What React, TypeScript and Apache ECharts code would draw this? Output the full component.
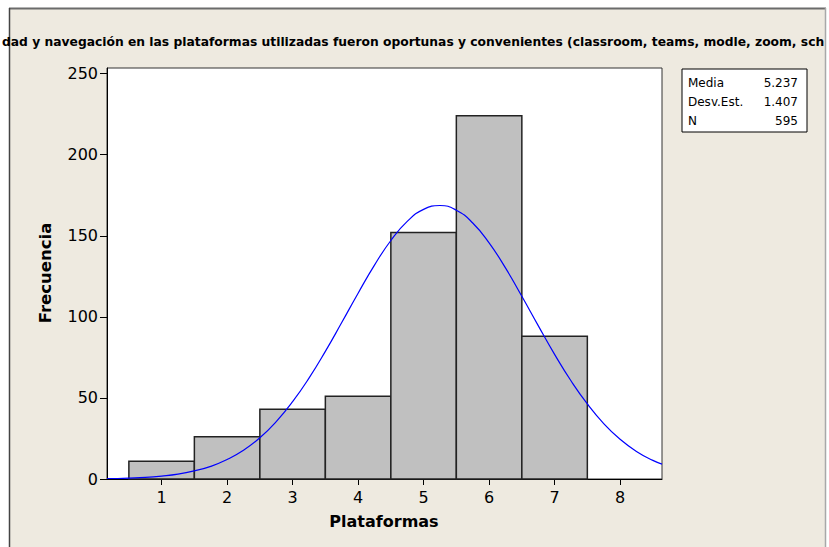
import React, { useEffect, useRef } from "react";
import * as echarts from "echarts";

const TITLE_TEXT =
  "dad y navegación en las plataformas utilizadas fueron oportunas y convenientes (classroom, teams, modle, zoom, sch";
const X_NAME = "Plataformas";
const Y_NAME = "Frecuencia";

// Histogram (bin centres and frequencies)
const binCenters = [1, 2, 3, 4, 5, 6, 7];
const frequencies = [11, 26, 43, 51, 152, 224, 88];

// Fitted normal curve
const curveX = [0.166, 0.25, 0.5, 0.75, 1, 1.25, 1.5, 1.75, 2, 2.25, 2.5, 2.75, 3, 3.25, 3.5, 3.75, 4, 4.25, 4.5, 4.75, 5, 5.25, 5.5, 5.75, 6, 6.25, 6.5, 6.75, 7, 7.25, 7.5, 7.75, 8, 8.25, 8.5, 8.64];
const curveY = [0.3, 0.3, 0.6, 1.0, 1.8, 3.0, 5.0, 7.8, 12.0, 17.7, 25.4, 35.4, 47.7, 62.2, 78.7, 96.5, 114.6, 131.9, 147.1, 158.9, 166.3, 168.7, 165.8, 157.9, 145.6, 130.2, 112.7, 94.6, 76.9, 60.6, 46.3, 34.2, 24.5, 17.0, 11.5, 9.2];

const xTicks = [1, 2, 3, 4, 5, 6, 7, 8];
const yTicks = [0, 50, 100, 150, 200, 250];

const statLabels = ["Media", "Desv.Est.", "N"];
const statValues = ["5.237", "1.407", "595"];

const FONT = "DejaVu Sans";

export default function App() {
  const ref = useRef<HTMLDivElement>(null);
  useEffect(() => {
    if (!ref.current) return;
    const chart = echarts.init(ref.current, null, { renderer: "svg" });

    const statTexts: any[] = [];
    statLabels.forEach((l, i) => {
      statTexts.push({
        type: "text",
        z: 20,
        style: { text: l, x: 688, y: 82.5 + i * 19, fill: "#000", font: `12px ${FONT}`, textVerticalAlign: "middle" },
      });
      statTexts.push({
        type: "text",
        z: 20,
        style: { text: statValues[i], x: 798, y: 82.5 + i * 19, fill: "#000", font: `12px ${FONT}`, textAlign: "right", textVerticalAlign: "middle" },
      });
    });

    chart.setOption({
      animation: false,
      backgroundColor: "#EEEAE0",
      grid: {
        left: 107,
        top: 68,
        width: 555,
        height: 411,
        show: true,
        backgroundColor: "#ffffff",
        borderColor: "#333333",
        borderWidth: 1,
      },
      xAxis: {
        type: "value",
        min: 0.166,
        max: 8.64,
        splitLine: { show: false },
        axisLine: { show: true, onZero: false, lineStyle: { color: "#000", width: 1 } },
        axisTick: { show: true, customValues: xTicks, length: 6, lineStyle: { color: "#000" } },
        axisLabel: { customValues: xTicks, margin: 10, color: "#000", fontSize: 16, fontFamily: FONT },
      },
      yAxis: {
        type: "value",
        min: 0,
        max: 253.5,
        splitLine: { show: false },
        axisLine: { show: true, lineStyle: { color: "#000", width: 1 } },
        axisTick: { show: true, customValues: yTicks, length: 7, lineStyle: { color: "#000" } },
        axisLabel: { customValues: yTicks, margin: 9, color: "#000", fontSize: 16, fontFamily: FONT },
      },
      series: [
        {
          type: "custom",
          data: binCenters.map((c, i) => [c, frequencies[i]]),
          renderItem: (params: any, api: any) => {
            const c = api.value(0);
            const v = api.value(1);
            const p1 = api.coord([c - 0.5, v]);
            const p2 = api.coord([c + 0.5, 0]);
            return {
              type: "rect",
              shape: { x: p1[0], y: p1[1], width: p2[0] - p1[0], height: p2[1] - p1[1] },
              style: { fill: "#C0C0C0", stroke: "#222222", lineWidth: 1.5 },
            };
          },
          z: 2,
        },
        {
          type: "line",
          data: curveX.map((x, i) => [x, curveY[i]]),
          smooth: true,
          symbol: "none",
          lineStyle: { color: "#0000FF", width: 1.2 },
          z: 3,
        },
      ],
      graphic: [
        { type: "rect", z: 1, shape: { x: 0, y: 0, width: 829, height: 8 }, style: { fill: "#ffffff" } },
        { type: "rect", z: 1, shape: { x: 0, y: 0, width: 9, height: 547 }, style: { fill: "#ffffff" } },
        { type: "rect", z: 1, shape: { x: 826, y: 0, width: 3, height: 547 }, style: { fill: "#ffffff" } },
        { type: "line", z: 2, shape: { x1: 9, y1: 8.5, x2: 826, y2: 8.5 }, style: { stroke: "#6b6b6b", lineWidth: 2 } },
        { type: "line", z: 2, shape: { x1: 9.5, y1: 8, x2: 9.5, y2: 547 }, style: { stroke: "#444444", lineWidth: 1.5 } },
        {
          type: "text",
          z: 10,
          style: { text: TITLE_TEXT, x: 2, y: 42, fill: "#000", font: `bold 12.3px ${FONT}`, textVerticalAlign: "middle" },
        },
        { type: "rect", z: 11, shape: { x: 826, y: 28, width: 3, height: 28 }, style: { fill: "#ffffff" } },
        { type: "line", z: 12, shape: { x1: 825.5, y1: 8, x2: 825.5, y2: 547 }, style: { stroke: "#a8a8a8", lineWidth: 1.5 } },
        {
          type: "rect",
          z: 19,
          shape: { x: 682, y: 69, width: 125, height: 63 },
          style: { fill: "#ffffff", stroke: "#000", lineWidth: 1 },
        },
        ...statTexts,
        {
          type: "text",
          z: 10,
          style: { text: X_NAME, x: 384, y: 521, fill: "#000", font: `bold 16px ${FONT}`, textAlign: "center", textVerticalAlign: "middle" },
        },
        {
          type: "text",
          z: 10,
          x: 45,
          y: 273,
          rotation: Math.PI / 2,
          style: { text: Y_NAME, x: 0, y: 0, fill: "#000", font: `bold 16.5px ${FONT}`, textAlign: "center", textVerticalAlign: "middle" },
        },
      ],
    });
    return () => chart.dispose();
  }, []);
  return <div ref={ref} style={{ position: "fixed", left: 0, top: 0, width: 829, height: 547 }} />;
}
